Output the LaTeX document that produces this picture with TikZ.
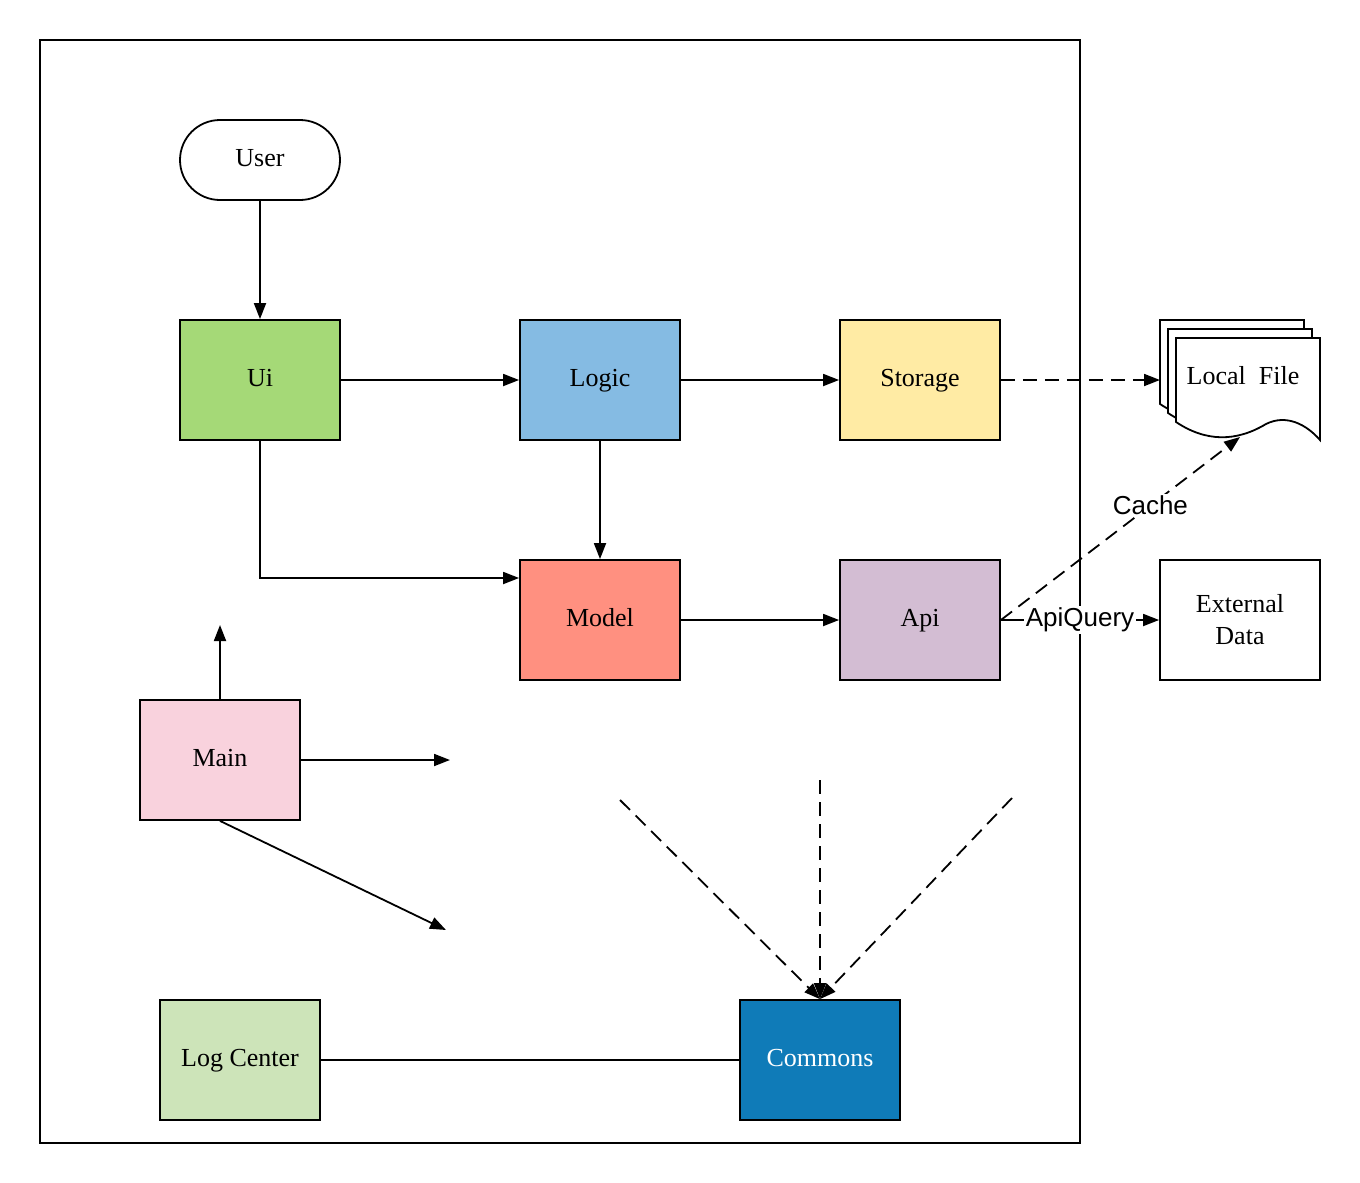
\documentclass[tikz,border=0pt]{standalone}
\usepackage{fontspec}
\setmainfont{Liberation Serif}
\newfontfamily\lsans{Liberation Sans}
\usetikzlibrary{arrows.meta}
\definecolor{cui}{HTML}{A5D977}
\definecolor{clogic}{HTML}{85BBE3}
\definecolor{cstorage}{HTML}{FFEBA4}
\definecolor{cmodel}{HTML}{FF9080}
\definecolor{capi}{HTML}{D3BDD3}
\definecolor{cmain}{HTML}{F9D2DD}
\definecolor{clog}{HTML}{CDE4B9}
\definecolor{ccommons}{HTML}{0F7BB8}
\begin{document}
\begin{tikzpicture}[x=0.5pt,y=-0.5pt,line width=0.9pt,
  basebox/.style={draw, minimum width=80pt, minimum height=60pt, inner sep=0pt,
    font=\fontsize{13}{16}\selectfont, align=center},
  box/.style={basebox, text height=9pt, text depth=3pt},
  arr/.style={-{Triangle[length=8pt,width=6pt]}},
  dsh/.style={dash pattern=on 7pt off 4pt},
  lbl/.style={fill=white, inner sep=1pt, font=\lsans\fontsize{13}{16}\selectfont},
  sheet/.style={draw, fill=white}]
\useasboundingbox (0,0) rectangle (1360,1183);
% frame
\draw (40,40) rectangle (1080,1143);
% nodes
\node[box, rounded corners=20pt, minimum height=40pt] (user) at (260,160) {User};
\node[box, fill=cui] (ui) at (260,380) {Ui};
\node[box, fill=clogic] (logic) at (600,380) {Logic};
\node[box, fill=cstorage] (storage) at (920,380) {Storage};
\node[box, fill=cmodel] (model) at (600,620) {Model};
\node[box, fill=capi] (api) at (920,620) {Api};
\node[basebox] (ext) at (1240,620) {External\\Data};
\node[box, fill=cmain] (main) at (220,760) {Main};
\node[box, fill=clog] (log) at (240,1060) {Log Center};
\node[box, fill=ccommons, text=white] (commons) at (820,1060) {Commons};
% local file (multi-document)
\foreach \dx/\dy in {1160/320,1168/329,1176/338}{
  \begin{scope}[shift={(\dx,\dy)}]
    \path[sheet] (0,0) -- (144,0) -- (144,102)
      .. controls (130,86) and (110,76) .. (90,86)
      .. controls (60,104) and (30,104) .. (0,84) -- cycle;
  \end{scope}
}
\node[font=\fontsize{13}{16}\selectfont] (lf) at (1243,376) {Local\ \ File};
\coordinate (lfin) at (1160,380);
\coordinate (lfcache) at (1240,437);
% free ends
\coordinate (mup) at (220,625);
\coordinate (mright) at (450,760);
\coordinate (mdiag) at (446,930);
\coordinate (d1) at (620,800);
\coordinate (d2) at (820,780);
\coordinate (d3) at (1012,798);
% connectors
\draw[arr] (user) -- (ui);
\draw[arr] (ui) -- (logic);
\draw[arr] (logic) -- (storage);
\draw[arr, dsh] (storage) -- (lfin);
\draw[arr] (logic) -- (model);
\draw[arr] (ui.south) |- ([yshift=21pt]model.west);
\draw[arr] (model) -- (api);
\draw[arr] (api.east) -- node[lbl] {ApiQuery} (ext.west);
\draw[arr, dsh] (api.east) -- node[lbl, pos=0.625] {Cache} (lfcache);
\draw[arr] (main.north) -- (mup);
\draw[arr] (main.east) -- (mright);
\draw[arr] (main.south) -- (mdiag);
\draw[arr, dsh] (d1) -- (commons.north);
\draw[arr, dsh] (d2) -- (commons.north);
\draw[arr, dsh] (d3) -- (commons.north);
\draw (log) -- (commons);
\end{tikzpicture}
\end{document}
